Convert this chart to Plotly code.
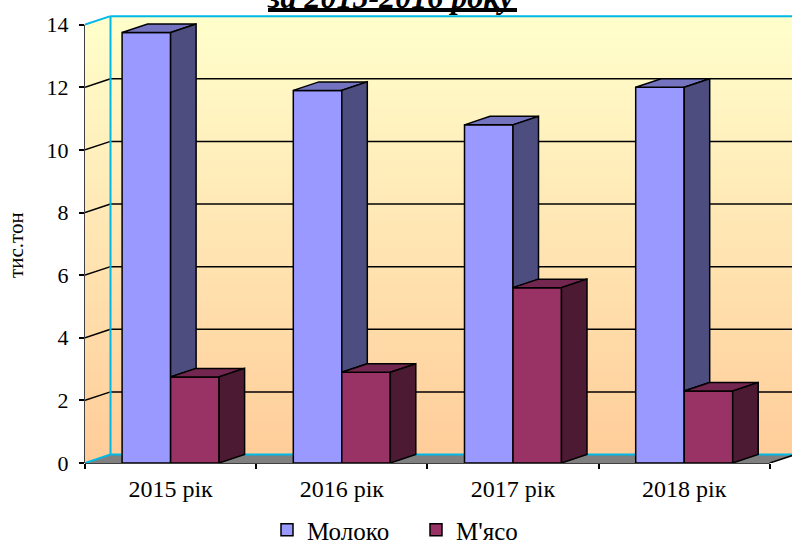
import base64
import struct
import zlib
import plotly.graph_objects as go

# ---------------- data ----------------
categories = ["2015 рік", "2016 рік", "2017 рік", "2018 рік"]
milk = [13.75, 11.9, 10.8, 12.0]
meat = [2.75, 2.9, 5.6, 2.3]
series_names = ["Молоко", "М'ясо"]
y_ticks = [0, 2, 4, 6, 8, 10, 12, 14]
title_text = "за 2015-2016 року"
y_title = "тис.тон"

# ---------------- geometry / style ----------------
W, H = 792, 547
ML, MR, MT, MB = 85, 0, 13, 84
PX_PER_CAT = 171.2
PX_PER_UNIT = 31.31
plot_w = W - ML - MR
plot_h = H - MT - MB
X0 = -0.5
XR = X0 + plot_w / PX_PER_CAT
YTOP = plot_h / PX_PER_UNIT
DX = 25.5 / PX_PER_CAT        # depth offset (x)
DY = 8.5 / PX_PER_UNIT        # depth offset (y)
BW = 48.5 / PX_PER_CAT        # bar width
YMAX = max(y_ticks)
NCAT = len(categories)
XEND = X0 + NCAT

FONT = "Liberation Serif, Times New Roman, serif"
MILK_FRONT, MILK_SIDE, MILK_TOP = "#9999FF", "#4D4D80", "#7373BF"
MEAT_FRONT, MEAT_SIDE, MEAT_TOP = "#993366", "#4D1A33", "#732650"
CYAN = "#00B8E6"
FLOOR = "#808080"


def gradient_png(top, bottom, n=256):
    rows = b""
    for i in range(n):
        t = i / (n - 1)
        c = bytes(round(top[k] + (bottom[k] - top[k]) * t) for k in range(3))
        rows += b"\x00" + c + c

    def chunk(tag, data):
        return (struct.pack(">I", len(data)) + tag + data
                + struct.pack(">I", zlib.crc32(tag + data) & 0xFFFFFFFF))

    png = (b"\x89PNG\r\n\x1a\n"
           + chunk(b"IHDR", struct.pack(">IIBBBBB", 2, n, 8, 2, 0, 0, 0))
           + chunk(b"IDAT", zlib.compress(rows))
           + chunk(b"IEND", b""))
    return "data:image/png;base64," + base64.b64encode(png).decode()


fig = go.Figure()

xs = list(range(NCAT))
fig.add_trace(go.Bar(x=xs, y=milk, name=series_names[0], width=BW, offset=-BW,
                     marker=dict(color=MILK_FRONT, line=dict(color="black", width=1.5)),
                     hoverinfo="skip"))
fig.add_trace(go.Bar(x=xs, y=meat, name=series_names[1], width=BW, offset=0,
                     marker=dict(color=MEAT_FRONT, line=dict(color="black", width=1.5)),
                     hoverinfo="skip"))


def face(px, py, color):
    fig.add_trace(go.Scatter(x=px + [px[0]], y=py + [py[0]], mode="lines", fill="toself",
                             fillcolor=color, line=dict(color="black", width=1.5),
                             showlegend=False, hoverinfo="skip"))


for i, (mv, tv) in enumerate(zip(milk, meat)):
    c = xs[i]
    # milk top
    face([c - BW, c, c + DX, c - BW + DX], [mv, mv, mv + DY, mv + DY], MILK_TOP)
    # milk side (visible part above the meat bar)
    face([c, c + DX, c + DX, c], [tv, tv + DY, mv + DY, mv], MILK_SIDE)
    # meat top
    face([c, c + BW, c + BW + DX, c + DX], [tv, tv, tv + DY, tv + DY], MEAT_TOP)
    # meat side
    face([c + BW, c + BW + DX, c + BW + DX, c + BW], [0, DY, tv + DY, tv], MEAT_SIDE)

shapes = []


def path_shape(pts, fill):
    d = "M " + " L ".join(f"{x},{y}" for x, y in pts) + " Z"
    shapes.append(dict(type="path", path=d, xref="x", yref="y", fillcolor=fill,
                       line=dict(width=0), layer="between"))


def line_shape(x0, y0, x1, y1, color, width, xref="x", yref="y"):
    shapes.append(dict(type="line", x0=x0, y0=y0, x1=x1, y1=y1, xref=xref, yref=yref,
                       line=dict(color=color, width=width), layer="between"))


# white corners outside the walls
path_shape([(X0, YMAX), (X0 + DX, YMAX + DY), (X0, YTOP + 1)], "white")
path_shape([(XEND, 0), (XR + 0.1, 0), (XR + 0.1, DY * (XR + 0.1 - XEND) / DX)], "white")
# floor
path_shape([(X0, 0), (XEND, 0), (XEND + DX, DY), (X0 + DX, DY)], FLOOR)
# grid lines: side wall diagonals + back wall horizontals
for v in y_ticks[1:-1]:
    line_shape(X0, v, X0 + DX, v + DY, "black", 1.5)
    line_shape(X0 + DX, v + DY, XR + 0.1, v + DY, "black", 1.5)
# cyan wall edges
line_shape(X0 + DX, DY, X0 + DX, YMAX + DY, CYAN, 2)
line_shape(X0 + DX, YMAX + DY, XR + 0.1, YMAX + DY, CYAN, 2)
line_shape(X0 + DX, DY, XR + 0.1, DY, CYAN, 2)
line_shape(X0, YMAX, X0 + DX, YMAX + DY, CYAN, 2)
line_shape(X0, 0, X0 + DX, DY, CYAN, 2)
# front axis lines
line_shape(0, 0, 0, YMAX, "black", 1.5, xref="paper", yref="y")
line_shape(X0, 0, XEND, 0, "black", 1.5, xref="x", yref="paper")
line_shape(XEND, 0, XEND + DX, DY, "black", 1.5)
# title underline
shapes.append(dict(type="line", xref="paper", yref="paper",
                   x0=(268 - ML) / plot_w, x1=(517 - ML) / plot_w,
                   y0=1 + (MT - 10) / plot_h, y1=1 + (MT - 10) / plot_h,
                   line=dict(color="black", width=4)))

fig.update_layout(
    width=W, height=H,
    margin=dict(l=ML, r=MR, t=MT, b=MB, pad=0, autoexpand=False),
    paper_bgcolor="white", plot_bgcolor="rgba(0,0,0,0)",
    barmode="overlay",
    showlegend=True,
    legend=dict(orientation="h", xref="container", yref="container", x=267 / W,
                y=(H - 530) / H,
                xanchor="left", yanchor="middle", entrywidth=104,
                font=dict(family=FONT, size=25, color="black"),
                bgcolor="rgba(0,0,0,0)"),
    shapes=shapes,
    images=[dict(source=gradient_png((255, 255, 204), (255, 204, 153)),
                 xref="x", yref="y", x=X0, y=YMAX + DY, sizex=XR - X0 + 0.1,
                 sizey=YMAX + DY, sizing="stretch", xanchor="left", yanchor="top",
                 layer="below")],
    annotations=[
        dict(text="<b><i>" + title_text + "</i></b>", xref="paper", yref="paper",
             x=(390 - ML) / plot_w, y=1 + (MT - 17) / plot_h,
             xanchor="center", yanchor="bottom", showarrow=False,
             font=dict(family=FONT, size=32, color="black")),
        dict(text=y_title, xref="paper", yref="paper",
             x=(16 - ML) / plot_w, y=1 - (245 - MT) / plot_h,
             xanchor="center", yanchor="middle", textangle=-90, showarrow=False,
             font=dict(family=FONT, size=21, color="black")),
    ],
)

fig.update_xaxes(range=[X0, XR], showgrid=False, zeroline=False, showline=False,
                 automargin=False,
                 tickmode="array", tickvals=xs, ticktext=categories,
                 ticks="outside", ticklen=4, tickcolor="rgba(0,0,0,0)",
                 tickfont=dict(family=FONT, size=24, color="black"),
                 minor=dict(tickmode="array", tickvals=[X0 + k for k in range(NCAT + 1)],
                            ticks="outside", ticklen=5, tickwidth=1.5, tickcolor="black",
                            showgrid=False),
                 fixedrange=True)
fig.update_yaxes(range=[0, YTOP], showgrid=False, zeroline=False, showline=False,
                 automargin=False,
                 tickmode="array", tickvals=y_ticks,
                 ticks="outside", ticklen=5, tickwidth=1.5, tickcolor="black",
                 tickfont=dict(family=FONT, size=22, color="black"),
                 ticklabelstandoff=6,
                 fixedrange=True)

fig.write_html("out.html", config={"displayModeBar": False},
               post_script="document.body.style.margin='0px';")
